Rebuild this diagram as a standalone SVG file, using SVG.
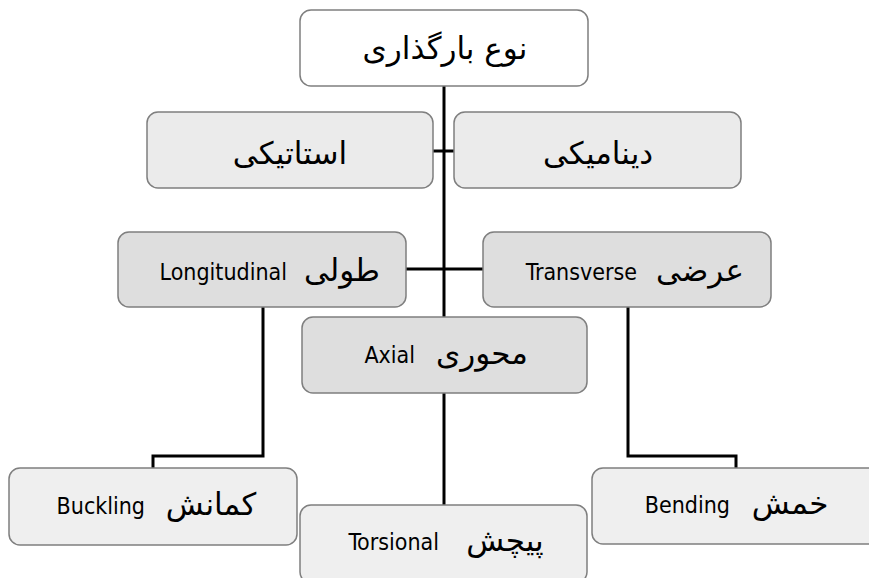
<svg xmlns="http://www.w3.org/2000/svg" width="869" height="578" viewBox="0 0 869 578">
<style>
.box{stroke:#7f7f7f;stroke-width:1.5}
.w{fill:#ffffff}
.l1{fill:#ebebeb}
.l2{fill:#dedede}
.l3{fill:#efefef}
.fa{font-family:"DejaVu Sans",sans-serif;fill:#000;text-anchor:middle}
.en{font-family:"DejaVu Sans Condensed","DejaVu Sans",sans-serif;font-stretch:condensed;font-size:23px;fill:#000;text-anchor:end}
.con{fill:none;stroke:#000;stroke-width:3}
</style>
<rect width="869" height="578" fill="#ffffff"/>
<g id="connectors">
<path class="con" d="M444 86 V317"/>
<path class="con" d="M433 151 H454"/>
<path class="con" d="M406 269 H483"/>
<path class="con" d="M263 306 V456 H153 V468"/>
<path class="con" d="M628 306 V456 H736 V468"/>
<path class="con" d="M444 392 V505"/>
</g>
<g id="n-root">
<rect class="box w" x="300" y="10" width="288" height="76" rx="11"/>
<text class="fa" x="445" y="59" font-size="31">نوع بارگذاری</text>
</g>
<g id="n-static">
<rect class="box l1" x="147" y="112" width="286" height="76" rx="11"/>
<text class="fa" x="290" y="164" font-size="31">استاتیکی</text>
</g>
<g id="n-dynamic">
<rect class="box l1" x="454" y="112" width="287" height="76" rx="11"/>
<text class="fa" x="598" y="164" font-size="31">دینامیکی</text>
</g>
<g id="n-long">
<rect class="box l2" x="118" y="232" width="288" height="75" rx="11"/>
<text class="en" x="287" y="280">Longitudinal</text>
<text class="fa" x="342" y="281" font-size="31">طولی</text>
</g>
<g id="n-trans">
<rect class="box l2" x="483" y="232" width="288" height="75" rx="11"/>
<text class="en" x="637" y="280">Transverse</text>
<text class="fa" x="700" y="281" font-size="31">عرضی</text>
</g>
<g id="n-axial">
<rect class="box l2" x="302" y="317" width="285" height="76" rx="11"/>
<text class="en" x="415" y="363">Axial</text>
<text class="fa" x="482" y="364" font-size="31">محوری</text>
</g>
<g id="n-buckling">
<rect class="box l3" x="9" y="468" width="288" height="77" rx="11"/>
<text class="en" x="145" y="514">Buckling</text>
<text class="fa" x="211" y="515" font-size="31">کمانش</text>
</g>
<g id="n-torsional">
<rect class="box l3" x="300" y="505" width="287" height="78" rx="11"/>
<text class="en" x="439" y="550">Torsional</text>
<text class="fa" x="505" y="551" font-size="31">پیچش</text>
</g>
<g id="n-bending">
<rect class="box l3" x="592" y="468" width="290" height="76" rx="11"/>
<text class="en" x="730" y="513">Bending</text>
<text class="fa" x="790" y="514" font-size="31">خمش</text>
</g>
</svg>
